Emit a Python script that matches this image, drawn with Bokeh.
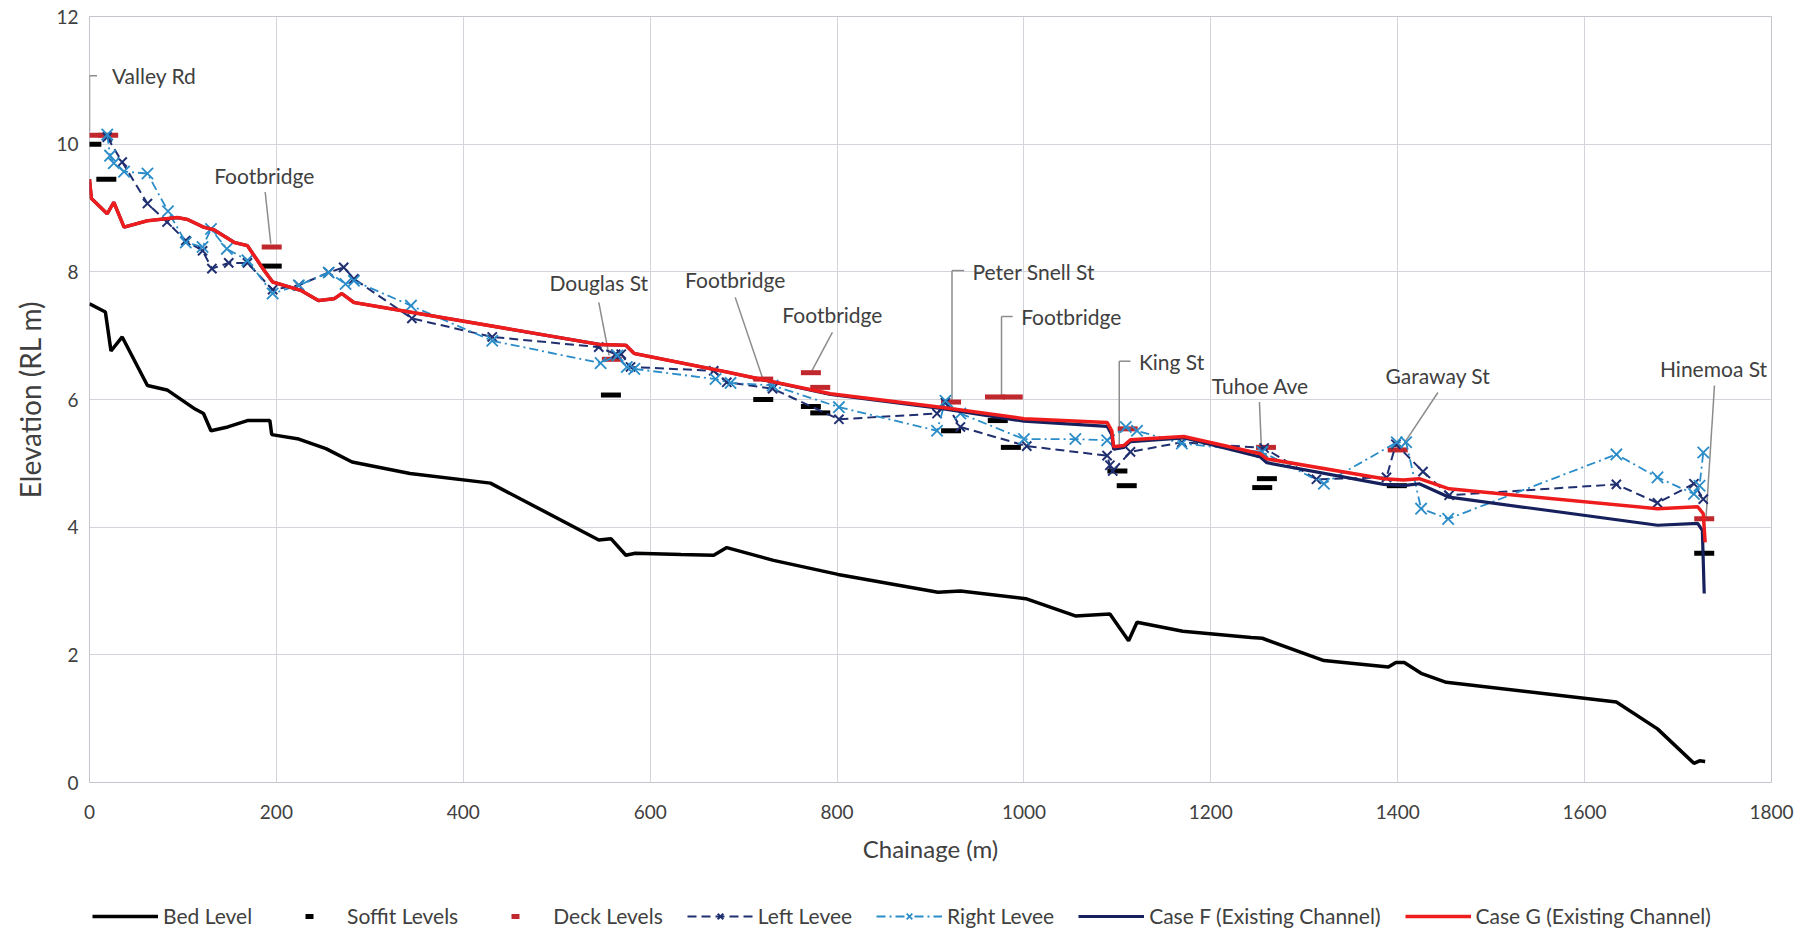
from bokeh.plotting import figure
from bokeh.layouts import column
from bokeh.models import Range1d, Legend, LegendItem, FixedTicker, Title
from bokeh.core.properties import value
from bokeh.embed import file_html
from bokeh.resources import INLINE

FONT = "Lato"

# ---------------- data ----------------
x_ticks = [0, 200, 400, 600, 800, 1000, 1200, 1400, 1600, 1800]
y_ticks = [0, 2, 4, 6, 8, 10, 12]

bed_x = [0, 17, 23, 35, 62, 83, 113, 122, 130, 148, 169, 193, 195, 224, 253, 281, 343, 429,
         545, 558, 574, 584, 633, 668, 682, 732, 801, 908, 932, 1002, 1055, 1092, 1112, 1121,
         1170, 1243, 1255, 1321, 1390, 1398, 1407, 1425, 1452, 1634, 1678, 1717, 1723, 1729]
bed_y = [7.50, 7.37, 6.76, 6.98, 6.22, 6.15, 5.85, 5.78, 5.51, 5.57, 5.67, 5.67, 5.45, 5.38,
         5.23, 5.02, 4.84, 4.69, 3.80, 3.82, 3.56, 3.59, 3.57, 3.56, 3.68, 3.48, 3.26, 2.98,
         3.00, 2.88, 2.61, 2.64, 2.22, 2.51, 2.37, 2.27, 2.26, 1.91, 1.81, 1.88, 1.88, 1.71,
         1.57, 1.26, 0.84, 0.30, 0.34, 0.33]

soffit_x = [2, 18, 195, 558, 721, 772, 782, 922, 972, 986, 1100, 1110, 1260, 1255, 1399, 1728]
soffit_y = [10.00, 9.45, 8.09, 6.07, 6.00, 5.89, 5.79, 5.51, 5.67, 5.25, 4.88, 4.65, 4.76,
            4.62, 4.65, 3.59]

deck_x = [2, 20, 195, 559, 721, 772, 782, 922, 969, 988, 1111, 1259, 1400, 1728]
deck_y = [10.14, 10.14, 8.39, 6.63, 6.32, 6.42, 6.19, 5.96, 6.04, 6.04, 5.54, 5.25, 5.21, 4.13]

left_x = [19, 35, 62, 83, 103, 121, 131, 149, 169, 196, 224, 256, 272, 283, 345, 431, 545,
          563, 569, 579, 668, 682, 731, 802, 907, 916, 932, 1003, 1089, 1092, 1095, 1114,
          1169, 1257, 1313, 1388, 1398, 1427, 1455, 1634, 1678, 1717, 1727]
left_y = [10.11, 9.72, 9.07, 8.78, 8.49, 8.33, 8.05, 8.14, 8.14, 7.72, 7.79, 7.99, 8.07,
          7.89, 7.27, 6.98, 6.82, 6.71, 6.71, 6.51, 6.45, 6.27, 6.17, 5.69, 5.78, 5.95, 5.57,
          5.27, 5.12, 4.97, 4.88, 5.18, 5.33, 5.24, 4.75, 4.78, 5.30, 4.87, 4.50, 4.67, 4.38,
          4.68, 4.44]

right_x = [19, 22, 26, 37, 62, 84, 103, 121, 130, 147, 169, 196, 224, 256, 274, 283, 344,
           431, 547, 565, 575, 583, 670, 686, 731, 802, 907, 916, 932, 1000, 1055, 1089, 1109,
           1121, 1169, 1255, 1321, 1399, 1409, 1425, 1454, 1634, 1678, 1717, 1723, 1727]
right_y = [10.15, 9.82, 9.70, 9.57, 9.54, 8.95, 8.46, 8.39, 8.67, 8.36, 8.18, 7.66, 7.79,
           7.99, 7.81, 7.86, 7.47, 6.92, 6.57, 6.69, 6.51, 6.48, 6.32, 6.26, 6.22, 5.88, 5.51,
           5.98, 5.78, 5.38, 5.38, 5.36, 5.57, 5.51, 5.31, 5.18, 4.68, 5.33, 5.33, 4.29, 4.13,
           5.14, 4.78, 4.52, 4.65, 5.17]

case_f_x = [0, 2, 19, 26, 37, 62, 94, 105, 122, 133, 155, 169, 187, 196, 226, 245, 262, 270,
            283, 547, 574, 583, 682, 793, 911, 1000, 1089, 1094, 1096, 1107, 1114, 1171, 1253,
            1260, 1385, 1406, 1423, 1455, 1678, 1721, 1726, 1728]
case_f_y = [9.45, 9.15, 8.91, 9.09, 8.70, 8.80, 8.85, 8.82, 8.70, 8.66, 8.46, 8.41, 8.02,
            7.84, 7.71, 7.55, 7.58, 7.66, 7.52, 6.86, 6.85, 6.72, 6.43, 6.08, 5.86, 5.66,
            5.58, 5.45, 5.22, 5.25, 5.34, 5.40, 5.10, 5.01, 4.67, 4.65, 4.68, 4.47, 4.03,
            4.06, 3.95, 2.96]

case_g_x = [0, 2, 19, 26, 37, 62, 94, 105, 122, 133, 155, 169, 187, 196, 226, 245, 262, 270,
            283, 547, 574, 583, 682, 793, 911, 1000, 1089, 1094, 1096, 1107, 1114, 1171, 1253,
            1260, 1385, 1406, 1423, 1455, 1678, 1721, 1727, 1729]
case_g_y = [9.45, 9.15, 8.91, 9.09, 8.70, 8.80, 8.85, 8.82, 8.70, 8.66, 8.46, 8.41, 8.02,
            7.84, 7.71, 7.55, 7.58, 7.66, 7.52, 6.86, 6.85, 6.72, 6.43, 6.09, 5.88, 5.70,
            5.64, 5.51, 5.26, 5.28, 5.37, 5.42, 5.15, 5.07, 4.76, 4.74, 4.76, 4.60, 4.29,
            4.32, 4.21, 3.76]

series_names = ["Bed Level", "Soffit Levels", "Deck Levels", "Left Levee", "Right Levee",
                "Case F (Existing Channel)", "Case G (Existing Channel)"]

# bridge labels (text anchor position, alignment)
label_text = ["Valley Rd", "Peter Snell St", "Footbridge", "King St",
              "Footbridge", "Douglas St", "Footbridge", "Footbridge", "Tuhoe Ave",
              "Garaway St", "Hinemoa St"]
label_x = [24, 945, 997, 1123, 187, 545, 691, 795, 1253, 1443, 1738]
label_y = [11.07, 8.01, 7.30, 6.60, 9.51, 7.84, 7.88, 7.33, 6.22, 6.38, 6.48]
label_align = ["left", "left", "left", "left", "center", "center", "center", "center",
               "center", "center", "center"]

# leader lines
lead_x0 = [0, 0, 188, 545, 691, 795, 923, 923, 976, 976, 1102, 1102, 1252, 1443, 1739]
lead_y0 = [11.07, 11.07, 9.25, 7.52, 7.60, 7.05, 8.02, 8.02, 7.30, 7.30, 6.60, 6.60, 5.96, 6.11, 6.22]
lead_x1 = [8, 0, 194, 556, 720, 773, 936, 923, 988, 976, 1114, 1102, 1254, 1404, 1730]
lead_y1 = [11.07, 10.2, 8.44, 6.69, 6.35, 6.45, 8.02, 5.98, 7.30, 6.06, 6.60, 5.26, 5.28, 5.25, 4.16]

# ---------------- styles ----------------
NAVY_L = "#1F2F70"
TEAL = "#2A8CC8"
NAVY_F = "#16205C"
RED = "#EE1C1C"
DECK = "#C0282D"
TXT = "#404040"


def add_series(fig):
    r_bed = fig.line(bed_x, bed_y, line_color="black", line_width=3.5)
    r_soffit = fig.scatter(soffit_x, soffit_y, marker="dash", size=20, line_color="black", line_width=5)
    r_deck = fig.scatter(deck_x, deck_y, marker="dash", size=20, line_color=DECK, line_width=5)
    r_left_l = fig.line(left_x, left_y, line_color=NAVY_L, line_width=2, line_dash="9 5")
    r_left_m = fig.scatter(left_x, left_y, marker="x", size=13, line_color=NAVY_L, line_width=2)
    r_right_l = fig.line(right_x, right_y, line_color=TEAL, line_width=1.8, line_dash="9 4 2 4")
    r_right_m = fig.scatter(right_x, right_y, marker="x", size=16, line_color=TEAL, line_width=1.8)
    r_f = fig.line(case_f_x, case_f_y, line_color=NAVY_F, line_width=3.2)
    r_g = fig.line(case_g_x, case_g_y, line_color=RED, line_width=3.5)
    return [[r_bed], [r_soffit], [r_deck], [r_left_l, r_left_m], [r_right_l, r_right_m],
            [r_f], [r_g]]


# ---------------- main figure ----------------
p = figure(width=1800, height=870, output_backend="svg", toolbar_location=None,
           x_range=Range1d(0, 1800), y_range=Range1d(0, 12),
           min_border_left=89, min_border_right=29, min_border_top=16, min_border_bottom=88,
           background_fill_color="white", border_fill_color="white")
p.outline_line_color = "#C4C4CC"
p.outline_line_width = 1

p.xaxis.ticker = FixedTicker(ticks=x_ticks)
p.yaxis.ticker = FixedTicker(ticks=y_ticks)
p.xgrid.ticker = FixedTicker(ticks=x_ticks)
p.ygrid.ticker = FixedTicker(ticks=y_ticks)
for g in (p.xgrid, p.ygrid):
    g.grid_line_color = "#D3D3DB"
    g.grid_line_width = 1

for ax in (p.xaxis, p.yaxis):
    ax.axis_line_color = None
    ax.major_tick_line_color = None
    ax.minor_tick_line_color = None
    ax.major_tick_out = 0
    ax.major_tick_in = 0
    ax.major_label_text_font = FONT
    ax.major_label_text_font_size = "19px"
    ax.major_label_text_color = TXT
    ax.axis_label_text_font = FONT
    ax.axis_label_text_font_style = "normal"
    ax.axis_label_text_color = TXT

p.xaxis.axis_label = "Chainage (m)"
p.xaxis.axis_label_text_font_size = "24px"
p.xaxis.major_label_standoff = 22
p.xaxis.axis_label_standoff = 12
p.yaxis.major_label_standoff = 11

ytitle = Title(text="Elevation (RL m)", align="center", offset=-40, standoff=14,
               text_font=FONT, text_font_size="28px", text_font_style="normal",
               text_color=TXT)
p.add_layout(ytitle, "left")

p.segment(x0=lead_x0, y0=lead_y0, x1=lead_x1, y1=lead_y1, line_color="#8C8C8C", line_width=1.5)
add_series(p)

for al in ("left", "center"):
    idx = [i for i, a in enumerate(label_align) if a == al]
    p.text(x=[label_x[i] for i in idx], y=[label_y[i] for i in idx],
           text=[label_text[i] for i in idx],
           text_font=value(FONT), text_font_size=value("21px"), text_color=TXT,
           text_align=al, text_baseline="middle")

# ---------------- legend strip ----------------
lf = figure(width=1800, height=60, output_backend="svg", toolbar_location=None,
            x_range=Range1d(0, 1800), y_range=Range1d(-100, -99),
            x_axis_type=None, y_axis_type=None, min_border=0,
            background_fill_color="white", border_fill_color="white")
lf.outline_line_color = None
lf.grid.visible = False
leg_renderers = add_series(lf)

legend = Legend(items=[LegendItem(label=n, renderers=r) for n, r in zip(series_names, leg_renderers)],
                orientation="horizontal", location=(3, 2),
                label_text_font=FONT, label_text_font_size="21px", label_text_color=TXT,
                glyph_width=66, glyph_height=20, spacing=24, label_standoff=5, padding=0, margin=0,
                border_line_color=None, background_fill_alpha=0)
lf.add_layout(legend, "center")

layout = column(p, lf, spacing=0)
open("out.html", "w").write(file_html(layout, INLINE))
